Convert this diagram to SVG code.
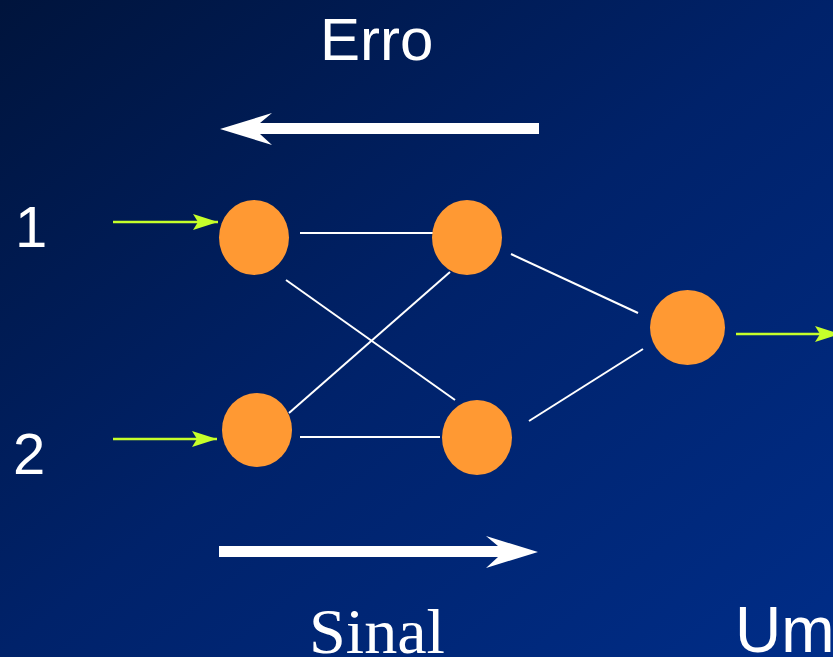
<svg xmlns="http://www.w3.org/2000/svg" width="833" height="657" viewBox="0 0 833 657">
<defs>
<linearGradient id="bg" x1="0" y1="0" x2="1" y2="1">
<stop offset="0" stop-color="#00143c"/>
<stop offset="0.5" stop-color="#00226a"/>
<stop offset="1" stop-color="#002d88"/>
</linearGradient>
<marker id="ga" markerWidth="26" markerHeight="16" refX="25" refY="8" orient="auto" markerUnits="userSpaceOnUse">
<path d="M0,0 L25,8 L0,16 L5,8 Z" fill="#c6ff2a"/>
</marker>
<style>
.node{fill:#ff9933;}
.w{stroke:#ffffff;stroke-width:2;fill:none;}
.g{stroke:#c6ff2a;stroke-width:2.5;fill:none;marker-end:url(#ga);}
.sans{font-family:"Liberation Sans",Arial,sans-serif;fill:#ffffff;}
.serif{font-family:"Liberation Serif","Times New Roman",serif;fill:#ffffff;}
</style>
</defs>
<rect width="833" height="657" fill="url(#bg)"/>
<text class="sans" x="320" y="60" font-size="60">Erro</text>
<text class="sans" x="15" y="247" font-size="58">1</text>
<text class="sans" x="13" y="474" font-size="58">2</text>
<text class="serif" x="309" y="653" font-size="64" textLength="136" lengthAdjust="spacingAndGlyphs">Sinal</text>
<text class="sans" x="735" y="652" font-size="64">Um</text>
<g id="connectors">
<path d="M220,129 L272,113 L260,123 L539,123 L539,134 L260,134 L272,145 Z" fill="#ffffff"/>
<path d="M538,552 L486,536 L498,546 L219,546 L219,557 L498,557 L486,568 Z" fill="#ffffff"/>
<line class="g" x1="113" y1="222" x2="218" y2="222"/>
<line class="g" x1="113" y1="439" x2="217" y2="439"/>
<line class="g" x1="736" y1="334" x2="840" y2="334"/>
<line class="w" x1="300" y1="233" x2="433" y2="233"/>
<line class="w" x1="286" y1="280" x2="455" y2="400"/>
<line class="w" x1="289" y1="413" x2="450" y2="272"/>
<line class="w" x1="300" y1="437" x2="440" y2="437"/>
<line class="w" x1="511" y1="254" x2="638" y2="313"/>
<line class="w" x1="529" y1="421" x2="643" y2="349"/>
</g>
<g id="n1"><ellipse class="node" cx="254" cy="237.5" rx="35" ry="37.5"/></g>
<g id="n2"><ellipse class="node" cx="257" cy="430" rx="35" ry="37"/></g>
<g id="n3"><ellipse class="node" cx="467" cy="237.5" rx="35" ry="37.5"/></g>
<g id="n4"><ellipse class="node" cx="477" cy="437.5" rx="35" ry="37.5"/></g>
<g id="n5"><ellipse class="node" cx="687.5" cy="327.5" rx="37.5" ry="37.5"/></g>
</svg>
